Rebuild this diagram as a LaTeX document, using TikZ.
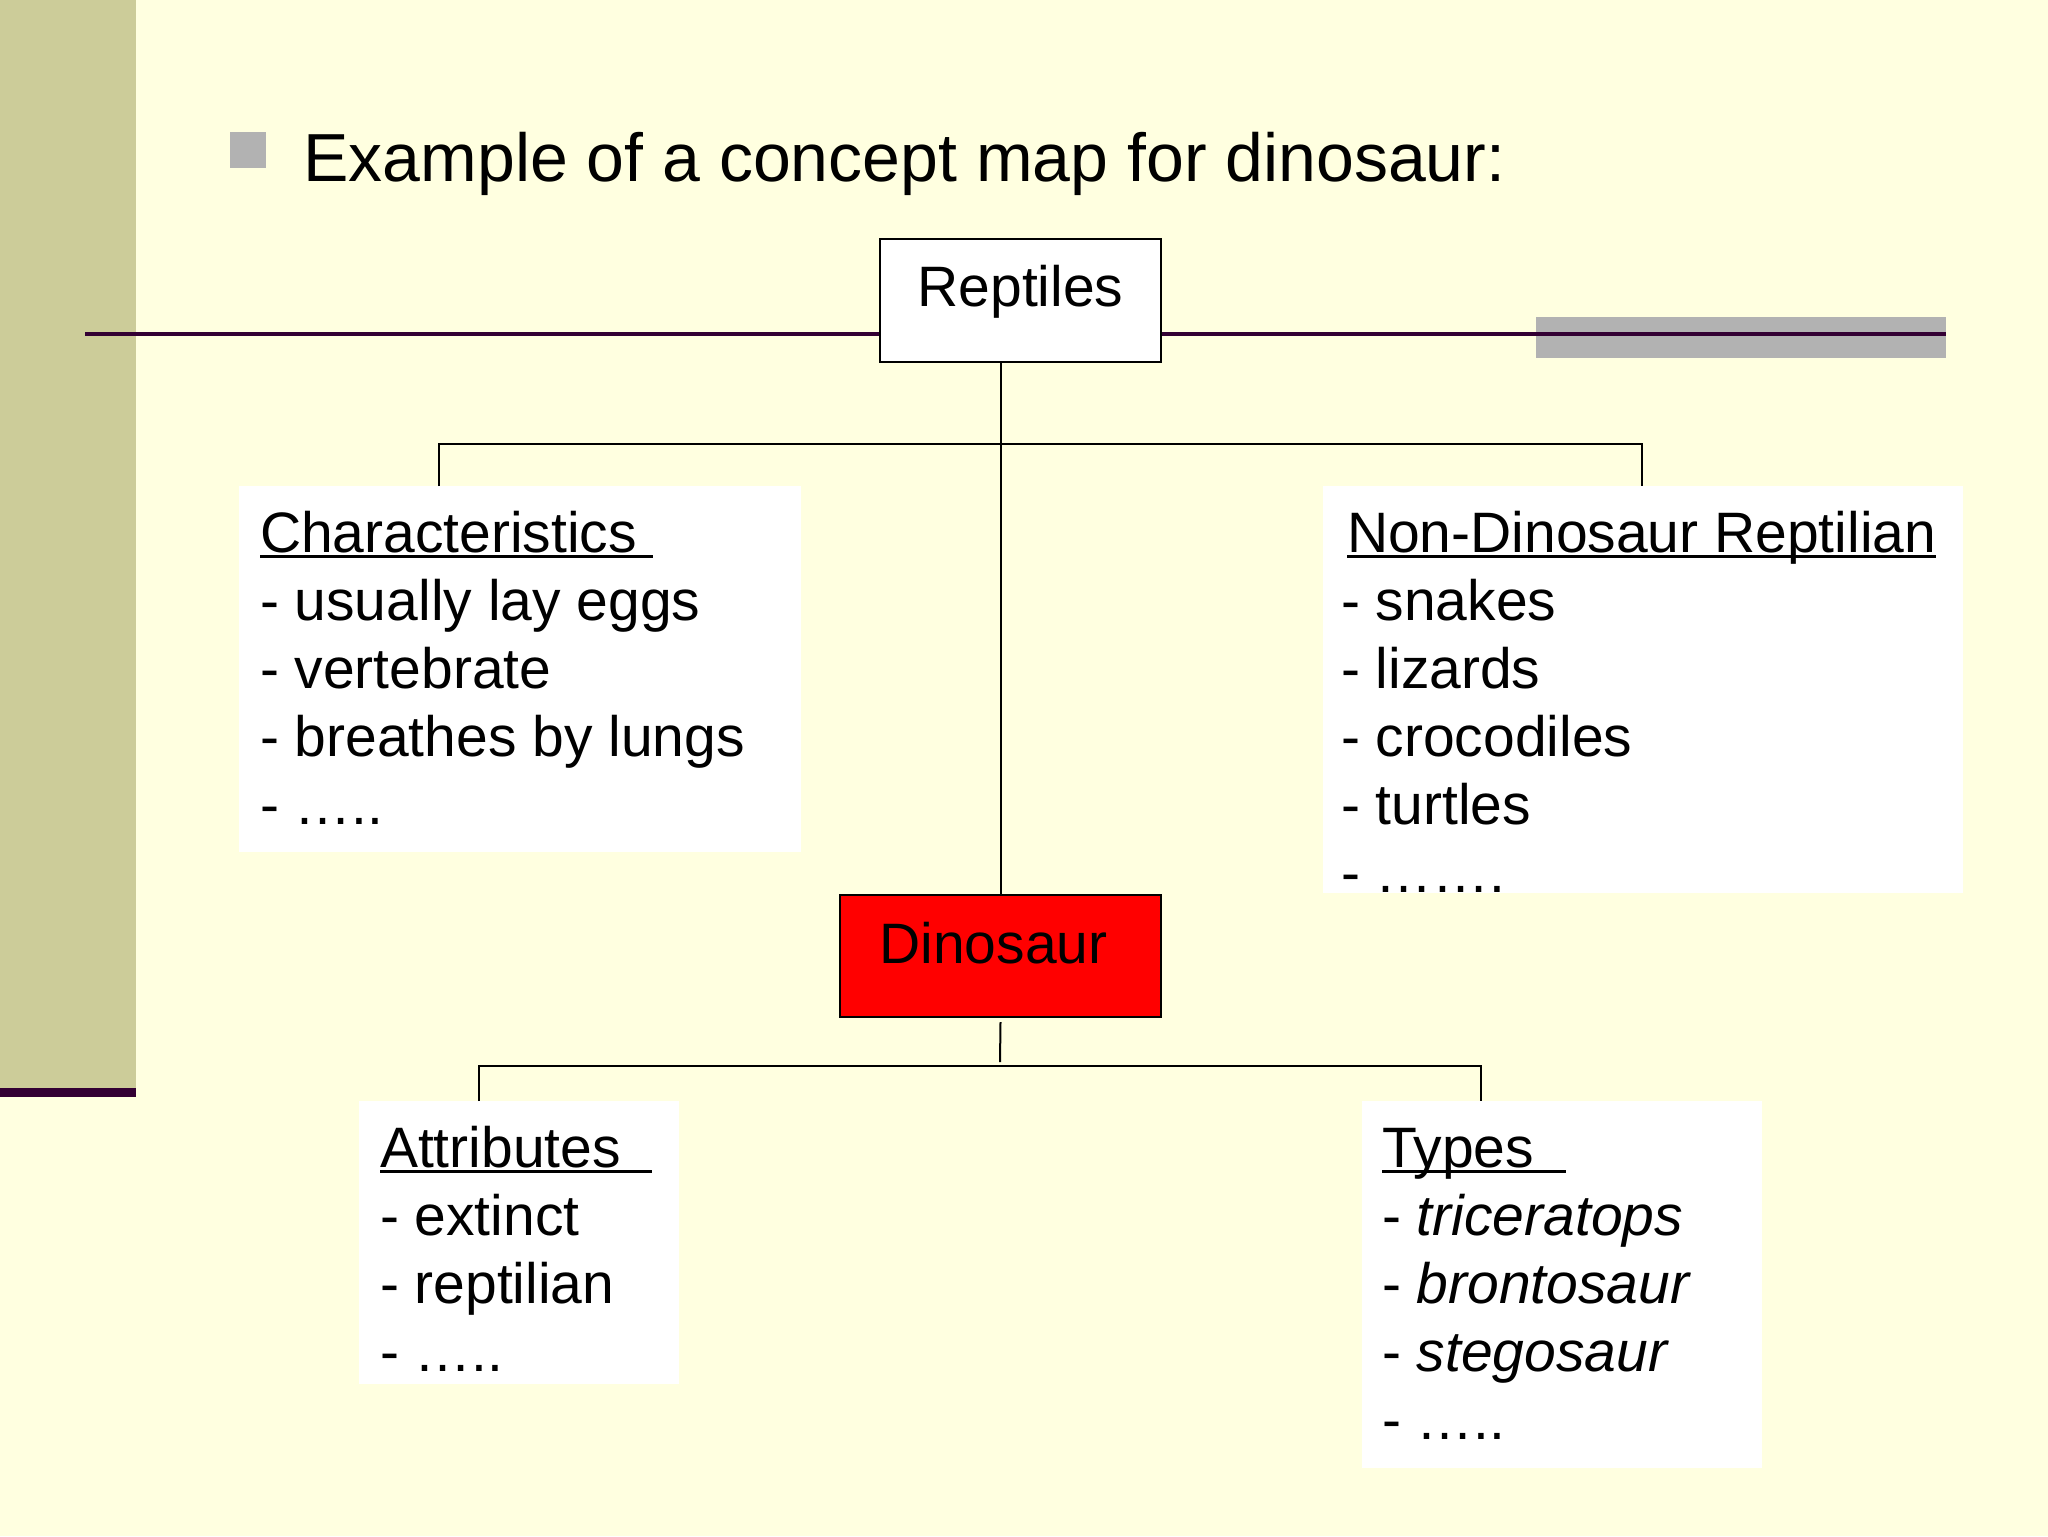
\documentclass[tikz,border=0pt]{standalone}
\usepackage{fontspec}
\setmainfont{Liberation Sans}
\definecolor{bgyellow}{HTML}{FFFFE0}
\definecolor{bandcol}{HTML}{CCCC99}
\definecolor{plum}{HTML}{330033}
\definecolor{bulletgray}{HTML}{B2B2B2}
\newcommand\ulhead[1]{\setbox0\hbox{#1}\rlap{\rule[-2.8pt]{\wd0}{1.2pt}}\box0}
\tikzset{
  conceptbox/.style={draw=black, line width=1.2pt, inner sep=0pt, outer sep=0pt,
    font=\fontsize{28.5}{34}\selectfont},
  panel/.style={fill=white, inner sep=0pt, outer sep=0pt, anchor=north west},
  listtext/.style={anchor=base west, inner sep=0pt, outer sep=0pt,
    font=\fontsize{28.5}{34}\selectfont},
  link/.style={draw=black, line width=1pt}
}
\begin{document}
\begin{tikzpicture}[x=0.5pt,y=-0.5pt]
\useasboundingbox (0,0) rectangle (2048,1536);
\fill[bgyellow] (0,0) rectangle (2048,1536);
% left band
\fill[bandcol] (0,0) rectangle (136,1088);
\fill[plum] (0,1088) rectangle (136,1097);
% bullet and title
\fill[bulletgray] (230,132) rectangle (266,168);
\node[anchor=base west, inner sep=0pt, font=\fontsize{34}{40}\selectfont] (title) at (303,181) {Example of a concept map for dinosaur:};
% decorative rule
\fill[bulletgray] (1536,317) rectangle (1946,358);
\draw[plum, line width=2.2pt] (85,334) -- (1946,334);

% panels
\node[panel, minimum width=281pt, minimum height=183pt] (charbox) at (239,486) {};
\node[panel, minimum width=320pt, minimum height=203.5pt] (ndbox) at (1323,486) {};
\node[panel, minimum width=160pt, minimum height=141.5pt] (attrbox) at (359,1101) {};
\node[panel, minimum width=200pt, minimum height=183.5pt] (typebox) at (1362,1101) {};

% concept boxes
\node[conceptbox, fill=white, minimum width=140.5pt, minimum height=61.5pt,
      text height=21pt, text depth=15.5pt] (rept) at (1020.5,300.5) {Reptiles};
\node[conceptbox, fill=red, minimum width=160.5pt, minimum height=61pt,
      text height=21pt, text depth=14pt] (dino) at (1000.5,956) {Dinosaur\hspace*{7pt}};

% connector points
\coordinate (cL) at (439,444);
\coordinate (cR) at (1642,444);
\coordinate (dM) at (1000,1062);
\coordinate (dL) at (479,1066);
\coordinate (dR) at (1481,1066);

\draw[link] (rept.south -| dino.north) -- (dino.north);
\draw[link] (charbox.north -| cL) -- (cL) -- (cR) -- (ndbox.north -| cR);
\draw[link] ([yshift=-2.5pt]dino.south) -- (dM);
\draw[link] (attrbox.north -| dL) -- (dL) -- (dR) -- (typebox.north -| dR);

% texts
\node[listtext] (chartext) at (260,552) {\begin{tabular}[t]{@{}l@{}}
\ulhead{Characteristics\ }\\
- usually lay eggs\\
- vertebrate\\
- breathes by lungs\\
- …..
\end{tabular}};
\node[listtext] (ndtext) at (1341,552) {\begin{tabular}[t]{@{}l@{}}
\hspace*{3pt}\ulhead{Non-Dinosaur Reptilian}\\
- snakes\\
- lizards\\
- crocodiles\\
- turtles\\
- …….
\end{tabular}};
\node[listtext] (attrtext) at (380,1167) {\begin{tabular}[t]{@{}l@{}}
\ulhead{Attributes\ \ }\\
- extinct\\
- reptilian\\
- …..
\end{tabular}};
\node[listtext] (typetext) at (1382,1167) {\begin{tabular}[t]{@{}l@{}}
\ulhead{Types\ \ }\\
- \textit{triceratops}\\
- \textit{brontosaur}\\
- \textit{stegosaur}\\
- …..
\end{tabular}};
\end{tikzpicture}
\end{document}
